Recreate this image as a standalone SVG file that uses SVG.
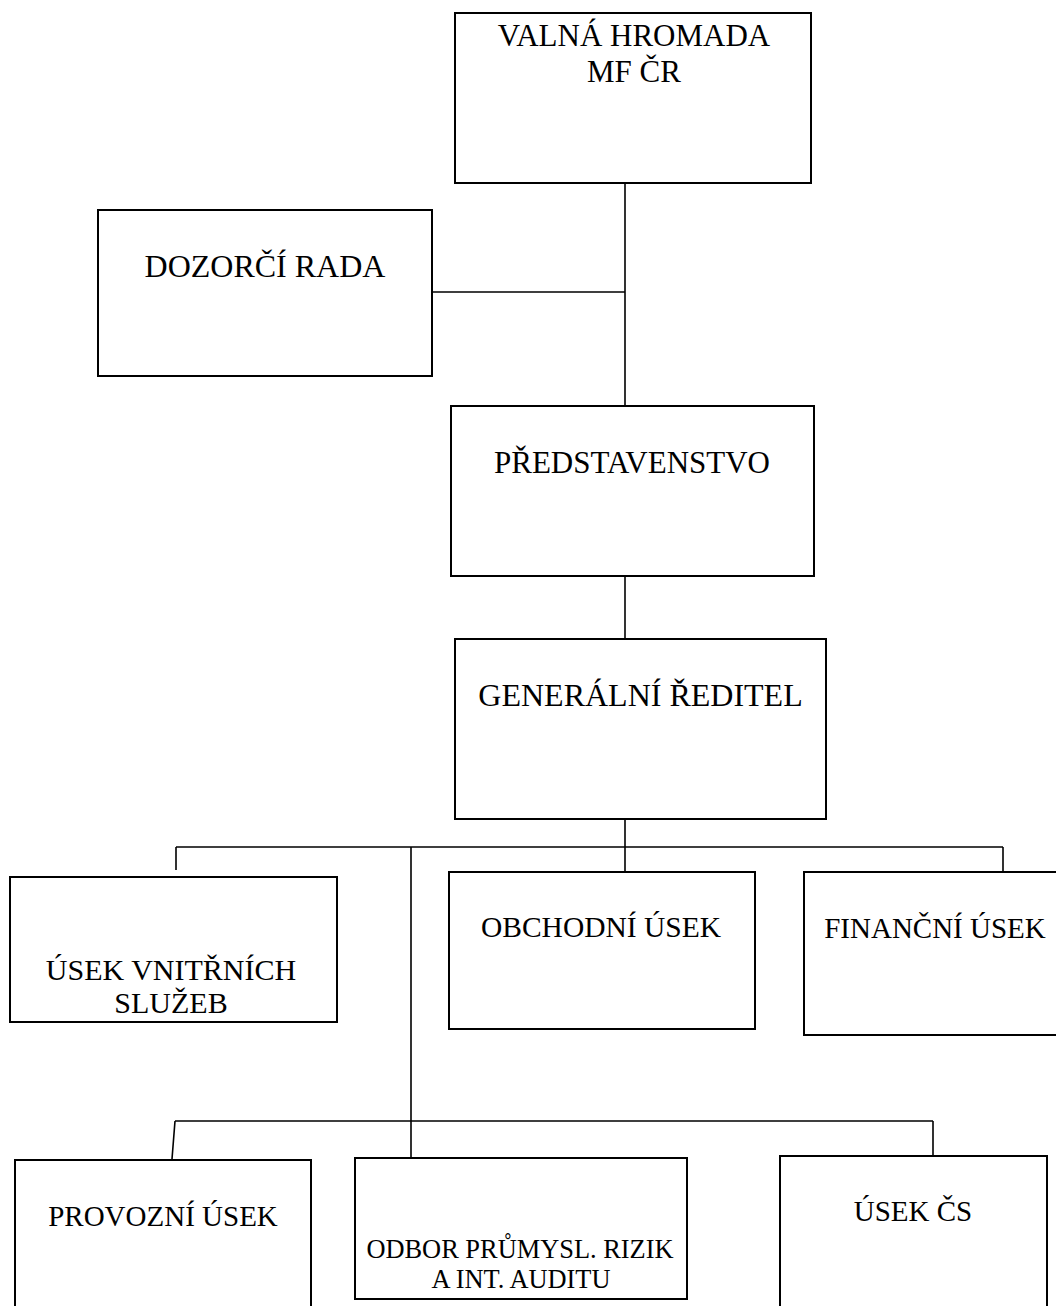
<svg xmlns="http://www.w3.org/2000/svg" width="1056" height="1306" viewBox="0 0 1056 1306">
<style>
.box{fill:#fff;stroke:#000;stroke-width:2}
.t{font-family:"Liberation Serif","Times New Roman",serif;fill:#000;text-anchor:middle}
.c{fill:none;stroke:#000;stroke-width:1.6}
</style>
<rect width="1056" height="1306" fill="#fff"/>
<g id="connectors">
<path class="c" d="M625 183V406M432 292H625"/>
<path class="c" d="M625 576V639"/>
<path class="c" d="M625 819V872M176 847H1003M176 847V870M1003 847V872M411 847V1158"/>
<path class="c" d="M175 1121H933M175 1121L172 1159M933 1121V1156"/>
</g>
<g id="valna-hromada">
<rect class="box" x="455" y="13" width="356" height="170"/>
<text class="t" x="634" y="46" font-size="31">VALNÁ HROMADA</text>
<text class="t" x="634" y="82" font-size="31">MF ČR</text>
</g>
<g id="dozorci-rada">
<rect class="box" x="98" y="210" width="334" height="166"/>
<text class="t" x="265" y="277" font-size="32">DOZORČÍ RADA</text>
</g>
<g id="predstavenstvo">
<rect class="box" x="451" y="406" width="363" height="170"/>
<text class="t" x="632" y="473" font-size="31">PŘEDSTAVENSTVO</text>
</g>
<g id="generalni-reditel">
<rect class="box" x="455" y="639" width="371" height="180"/>
<text class="t" x="640.5" y="706" font-size="32">GENERÁLNÍ ŘEDITEL</text>
</g>
<g id="usek-vnitrnich-sluzeb">
<rect class="box" x="10" y="877" width="327" height="145"/>
<text class="t" x="171" y="980" font-size="30">ÚSEK VNITŘNÍCH</text>
<text class="t" x="171" y="1013" font-size="30">SLUŽEB</text>
</g>
<g id="obchodni-usek">
<rect class="box" x="449" y="872" width="306" height="157"/>
<text class="t" x="601" y="937" font-size="29.5">OBCHODNÍ ÚSEK</text>
</g>
<g id="financni-usek">
<rect class="box" x="804" y="872" width="262" height="163"/>
<text class="t" x="935" y="938" font-size="29">FINANČNÍ ÚSEK</text>
</g>
<g id="provozni-usek">
<rect class="box" x="15" y="1160" width="296" height="160"/>
<text class="t" x="163" y="1226" font-size="29">PROVOZNÍ ÚSEK</text>
</g>
<g id="odbor-prumysl-rizik">
<rect class="box" x="355" y="1158" width="332" height="141"/>
<text class="t" x="520" y="1258" font-size="26.4">ODBOR PRŮMYSL. RIZIK</text>
<text class="t" x="521" y="1288" font-size="26.4">A INT. AUDITU</text>
</g>
<g id="usek-cs">
<rect class="box" x="780" y="1156" width="267" height="164"/>
<text class="t" x="913" y="1221" font-size="29">ÚSEK ČS</text>
</g>
</svg>
